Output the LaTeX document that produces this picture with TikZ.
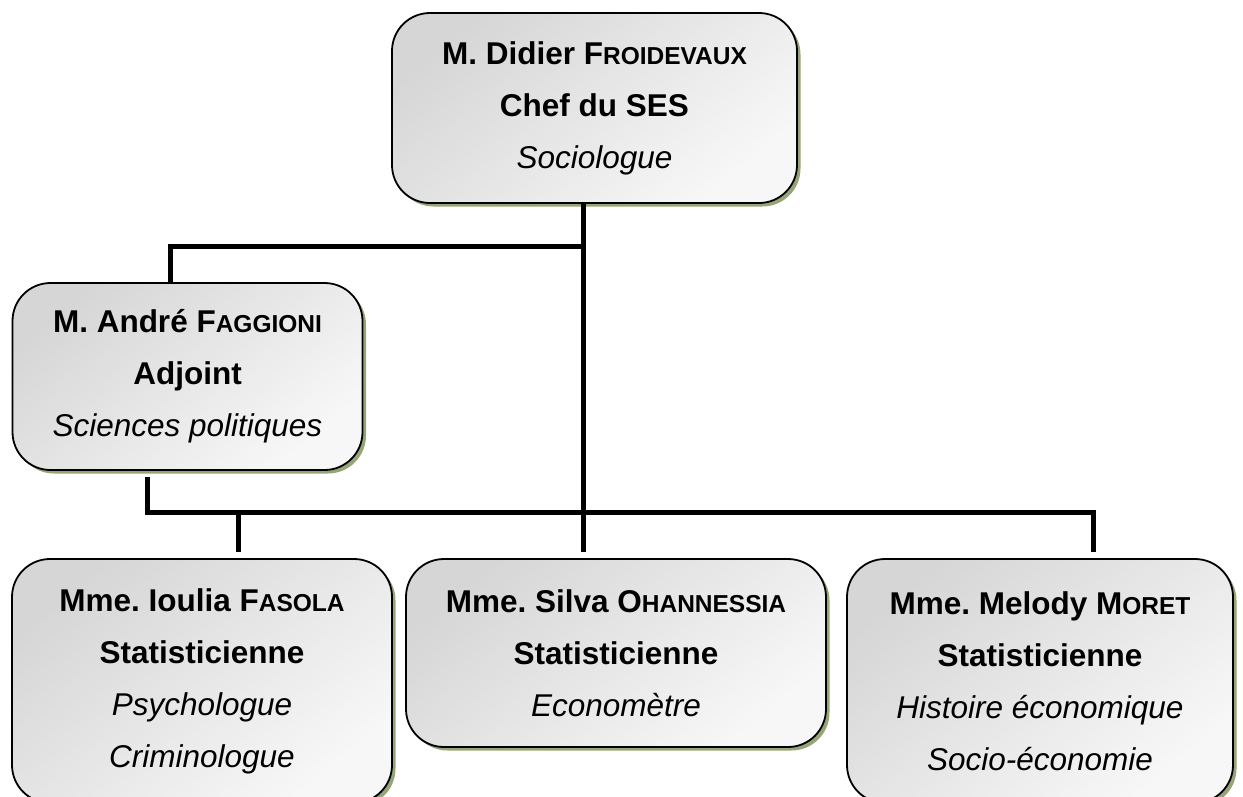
\documentclass[tikz,border=0pt]{standalone}
\usepackage{fontspec}
\setmainfont{Liberation Sans}
\usetikzlibrary{shadows}
\definecolor{shadowc}{RGB}{150,165,120}
\frenchspacing
\newcommand\smcp[1]{{\fontsize{24.5}{52}\selectfont #1}}
\tikzset{
  orgbox/.style={draw=black, line width=1.8pt, rounded corners=38pt,
    top color=black!16, bottom color=black!3, shading angle=40,
    drop shadow={shadow xshift=3.5pt, shadow yshift=-3.5pt, fill=shadowc, opacity=1},
    align=center, font=\fontsize{31.5}{52}\selectfont, inner sep=0pt},
  conn/.style={line width=5pt, black}
}
\begin{document}
\begin{tikzpicture}[x=1pt,y=-1pt]
\useasboundingbox (0,0) rectangle (1243,796);
\clip (0,0) rectangle (1243,796);
\node[orgbox, minimum width=405pt, minimum height=190pt] (top) at (594.5,108)
  {\textbf{M. Didier F\smcp{ROIDEVAUX}}\\ \textbf{Chef du SES}\\ \textit{Sociologue}};
\node[orgbox, minimum width=350pt, minimum height=187pt] (adj) at (187.5,376.5)
  {\textbf{M. André F\smcp{AGGIONI}}\\ \textbf{Adjoint}\\ \textit{Sciences politiques}};
\node[orgbox, minimum width=380pt, minimum height=244pt] (fas) at (202,681)
  {\textbf{Mme. Ioulia F\smcp{ASOLA}}\\ \textbf{Statisticienne}\\ \textit{Psychologue}\\ \textit{Criminologue}};
\node[orgbox, minimum width=420pt, minimum height=188pt] (oha) at (616,653)
  {\textbf{Mme. Silva O\smcp{HANNESSIA}}\\ \textbf{Statisticienne}\\ \textit{Economètre}};
\node[orgbox, minimum width=386pt, minimum height=244pt] (mor) at (1040,681)
  {\textbf{Mme. Melody M\smcp{ORET}}\\ \textbf{Statisticienne}\\ \textit{Histoire économique}\\ \textit{Socio-économie}};
% connectors
\coordinate (hubA) at (583,246);
\coordinate (hubAL) at (170,246);
\coordinate (hubB) at (583,552);
\coordinate (busL) at (147,512);
\coordinate (busR) at (1093,512);
\coordinate (dropF) at (238,552);
\coordinate (dropM) at (1093,552);
\coordinate (adjOut) at (147,477);
\draw[conn] (top.south -| hubA) -- (hubB);
\draw[conn] (hubA) -- (hubAL) -- (adj.north -| hubAL);
\draw[conn] (adjOut) -- (busL) -- (busR) -- (dropM);
\draw[conn] (busL -| dropF) -- (dropF);
\end{tikzpicture}
\end{document}
